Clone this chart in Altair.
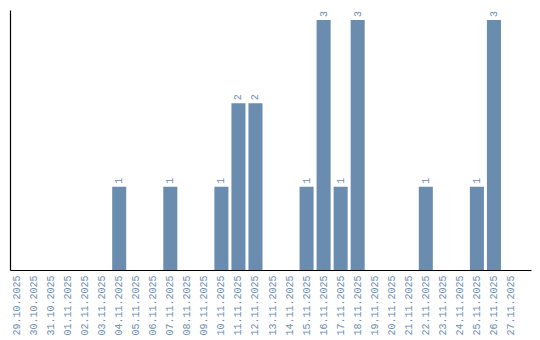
import altair as alt
import pandas as pd

dates = ["29.10.2025", "30.10.2025", "31.10.2025", "01.11.2025", "02.11.2025",
         "03.11.2025", "04.11.2025", "05.11.2025", "06.11.2025", "07.11.2025",
         "08.11.2025", "09.11.2025", "10.11.2025", "11.11.2025", "12.11.2025",
         "13.11.2025", "14.11.2025", "15.11.2025", "16.11.2025", "17.11.2025",
         "18.11.2025", "19.11.2025", "20.11.2025", "21.11.2025", "22.11.2025",
         "23.11.2025", "24.11.2025", "25.11.2025", "26.11.2025", "27.11.2025"]
counts = [0, 0, 0, 0, 0,
          0, 1, 0, 0, 1,
          0, 0, 1, 2, 2,
          0, 0, 1, 3, 1,
          3, 0, 0, 0, 1,
          0, 0, 1, 3, 0]

df = pd.DataFrame({"date": dates, "count": counts})

COLOR = "#6a8caf"
FONT = "Liberation Mono"

x = alt.X("date:N", sort=dates,
          scale=alt.Scale(paddingInner=3/17, paddingOuter=0.382, align=0),
          axis=alt.Axis(title=None, labelAngle=270, labelAlign="right",
                        labelBaseline="middle", labelColor=COLOR, labelFont=FONT,
                        labelFontSize=10, labelPadding=5, ticks=False,
                        domainColor="black", domainWidth=1.2, labelOverlap=False))
y = alt.Y("count:Q", scale=alt.Scale(domain=[0, 3.12], nice=False),
          axis=alt.Axis(title=None, labels=False, ticks=False, grid=False,
                        domainColor="black", domainWidth=1.2))

bars = alt.Chart(df).mark_bar(color=COLOR).encode(x=x, y=y)
labels = alt.Chart(df).transform_filter("datum.count > 0").mark_text(
    angle=270, align="left", baseline="middle", dx=3, color=COLOR,
    font=FONT, fontSize=10
).encode(x=alt.X("date:N", sort=dates), y="count:Q", text="count:Q")

chart = (bars + labels).properties(
    width=521, height=260,
    background="white",
    autosize=alt.AutoSizeParams(type="none"),
    padding={"left": 10, "top": 10, "right": 9, "bottom": 70},
).configure_view(strokeWidth=0, stroke=None)

chart.save("out.html", embed_options={"renderer": "svg", "actions": False})
